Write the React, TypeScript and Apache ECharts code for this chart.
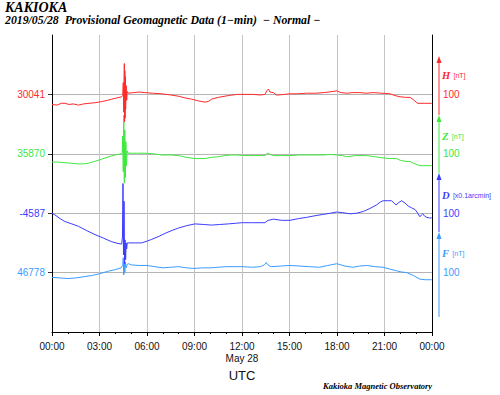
import React, { useEffect, useRef } from "react";
import * as echarts from "echarts";

// time in minutes since 00:00 UTC, deviations from baseline (nT or 0.1 arcmin)
const H_DATA: [number, number][] = [
  [0,-17],[20,-18],[35,-15],[49,-15],[65,-17],[80,-16],[100,-18],[120,-16],[140,-15],[163,-14],[190,-12],[210,-10],[226,-8],[245,-6],[264,-4],[268,-2],[270,20],[272,-30],[274,52],[275,-46],[276,40],[277,-40],[278,30],[279,-25],[281,15],[283,-10],[285,5],[289,2],[310,3],[330,4],[352,3],[380,2],[416,1],[450,-1],[479,-3],[505,-6],[529,-8],[555,-11],[580,-13],[592,-12],[605,-8],[630,-5],[668,-2],[700,0],[731,0],[760,0],[790,-1],[807,0],[814,6],[820,9],[826,4],[839,3],[850,-1],[858,-1],[880,0],[902,1],[930,1],[965,2],[1000,2],[1028,3],[1050,4],[1079,6],[1095,3],[1117,2],[1140,3],[1167,3],[1190,2],[1217,3],[1250,2],[1281,1],[1300,-2],[1319,-4],[1340,-5],[1357,-5],[1370,-9],[1385,-15],[1410,-15],[1439,-15],
];
const Z_DATA: [number, number][] = [
  [0,-14],[25,-14],[49,-15],[75,-16],[100,-17],[120,-17],[137,-16],[160,-13],[188,-9],[215,-5],[239,-2],[262,0],[266,2],[268,30],[270,-30],[272,65],[274,-49],[276,40],[278,-40],[280,20],[282,-20],[285,5],[289,1],[320,1],[352,1],[385,0],[416,-2],[450,-2],[479,-3],[510,-6],[542,-8],[580,-8],[605,-6],[630,-5],[655,-3],[681,-2],[700,-2],[731,-3],[770,-3],[807,-3],[814,0],[820,1],[826,-1],[839,-3],[870,-3],[902,-3],[935,-2],[965,-2],[1000,-2],[1028,-2],[1055,-1],[1079,-2],[1100,-3],[1117,-5],[1150,-3],[1192,-3],[1225,-5],[1255,-7],[1280,-8],[1306,-8],[1320,-11],[1331,-12],[1345,-13],[1357,-13],[1375,-17],[1394,-20],[1439,-20],
];
const D_DATA: [number, number][] = [
  [0,0],[15,-4],[30,-9],[49,-14],[75,-18],[100,-22],[130,-29],[163,-36],[195,-42],[226,-48],[250,-51],[264,-52],[267,-40],[269,50],[271,-70],[273,20],[275,-85],[277,-45],[279,-78],[281,-50],[283,-60],[285,-50],[289,-50],[315,-50],[340,-50],[360,-47],[378,-44],[405,-39],[428,-34],[455,-29],[479,-25],[510,-21],[542,-18],[575,-19],[605,-20],[635,-19],[668,-18],[695,-17],[719,-16],[760,-16],[807,-16],[815,-13],[820,-12],[830,-11],[839,-10],[870,-12],[902,-12],[935,-9],[965,-7],[1000,-4],[1028,-2],[1055,0],[1079,2],[1100,1],[1129,-1],[1155,0],[1180,3],[1205,8],[1230,14],[1245,19],[1255,21],[1270,21],[1287,21],[1296,17],[1304,14],[1314,18],[1325,21],[1338,17],[1350,12],[1363,9],[1376,6],[1386,0],[1394,-6],[1400,-3],[1405,-1],[1412,-5],[1420,-7],[1430,-8],[1439,-8],
];
const F_DATA: [number, number][] = [
  [0,-8],[30,-9],[60,-10],[90,-9],[120,-7],[150,-5],[180,-2],[210,2],[240,5],[262,8],[268,12],[270,25],[272,-4],[274,20],[276,0],[278,18],[281,8],[285,14],[290,15],[300,13],[330,12],[360,12],[390,10],[420,8],[450,9],[480,10],[510,8],[540,7],[570,8],[600,8],[630,9],[660,10],[690,10],[720,10],[760,9],[790,10],[805,13],[812,17],[818,13],[830,10],[865,11],[900,12],[940,11],[975,10],[1014,9],[1045,12],[1079,15],[1110,11],[1140,9],[1165,11],[1192,12],[1225,10],[1254,9],[1280,6],[1306,3],[1325,1],[1344,0],[1370,-5],[1394,-11],[1415,-12],[1432,-12],[1439,-12],
];

const BASELINES = ["46778", "-4587", "35870", "30041"]; // F, D, Z, H
const SCALE_LABELS = ["100", "100", "100", "100"];
const X_TICK_LABELS = ["00:00", "03:00", "06:00", "09:00", "12:00", "15:00", "18:00", "21:00", "00:00"];
const DATE_LABEL = "May 28";

const COLORS = ["#3a9cff", "#3c3cff", "#3ee83e", "#ff2a2a"]; // F, D, Z, H
const NAMES = ["F", "D", "Z", "H"];
const UNITS = ["[nT]", "[x0.1arcmin]", "[nT]", "[nT]"];
const SERIES = [F_DATA, D_DATA, Z_DATA, H_DATA];

export default function App() {
  const ref = useRef<HTMLDivElement>(null);
  useEffect(() => {
    if (!ref.current) return;
    const chart = echarts.init(ref.current, undefined, { renderer: "svg" });
    const rich: any = {};
    COLORS.forEach((c, i) => {
      rich["c" + i] = { color: c, fontSize: 10, fontFamily: "Liberation Sans" };
    });
    const serif = "Liberation Serif";
    const arrows = [
      { top: 232, bottom: 317, ty: 253 },
      { top: 173, bottom: 232, ty: 195 },
      { top: 115, bottom: 173, ty: 136 },
      { top: 56, bottom: 115, ty: 75 },
    ];
    const graphic: any[] = [
      { type: "text", left: 5, top: 0, style: { text: "KAKIOKA", font: `italic bold 14px "${serif}"`, fill: "#000" } },
      { type: "text", left: 5, top: 14, style: { text: "2019/05/28  Provisional Geomagnetic Data (1\u2212min)  \u2212 Normal \u2212", font: `italic bold 11.8px "${serif}"`, fill: "#000" } },
      { type: "text", left: 323, top: 381, style: { text: "Kakioka Magnetic Observatory", font: `italic bold 8.5px "${serif}"`, fill: "#000" } },
    ];
    arrows.forEach((a, i) => {
      graphic.push({ type: "line", shape: { x1: 439, y1: a.bottom, x2: 439, y2: a.top + 5 }, style: { stroke: COLORS[i], lineWidth: 1 } });
      graphic.push({ type: "polygon", shape: { points: [[439, a.top], [436.5, a.top + 7], [441.5, a.top + 7]] }, style: { fill: COLORS[i] } });
      graphic.push({
        type: "text", x: 442, y: a.ty,
        style: {
          text: `{n|${NAMES[i]}} {u|${UNITS[i]}}`,
          verticalAlign: "middle",
          rich: {
            n: { font: `italic bold 10.5px "${serif}"`, fill: COLORS[i], color: COLORS[i] },
            u: { fontSize: 7, fontFamily: "Liberation Sans", fill: COLORS[i], color: COLORS[i] },
          },
        },
      });
    });

    chart.setOption({
      animation: false,
      backgroundColor: "#fff",
      grid: { left: 52, right: 68, top: 35, bottom: 63 },
      graphic,
      xAxis: {
        type: "value", min: 0, max: 1440, interval: 180,
        axisLine: { show: true, lineStyle: { color: "#000", width: 1 } },
        axisTick: { show: true, length: 4, lineStyle: { color: "#000" } },
        minorTick: { show: true, splitNumber: 3, length: 2, lineStyle: { color: "#000" } },
        splitLine: { show: true, lineStyle: { color: "#c4c4c4", width: 1 } },
        axisLabel: {
          fontSize: 10, color: "#111", fontFamily: "Liberation Sans", margin: 8, lineHeight: 12,
          formatter: (v: number) => {
            const i = Math.round(v / 180);
            return X_TICK_LABELS[i] + (v === 720 ? "\n" + DATE_LABEL : "");
          },
        },
        name: "UTC", nameLocation: "middle", nameGap: 30,
        nameTextStyle: { fontSize: 13, color: "#111", fontFamily: "Liberation Sans" },
      },
      yAxis: [
        {
          type: "value", min: 0, max: 5, interval: 1, position: "left",
          axisLine: { show: true, lineStyle: { color: "#000", width: 1 } },
          axisTick: { show: true, length: 4, customValues: [1, 2, 3, 4], lineStyle: { color: "#333" } },
          axisLabel: {
            customValues: [1, 2, 3, 4], margin: 7,
            formatter: (v: number) => { const i = Math.round(v) - 1; return `{c${i}|${BASELINES[i]}}`; },
            rich,
          },
          splitLine: { show: true, lineStyle: { color: "#b4b4b4", width: 1 } },
        },
        {
          type: "value", min: 0, max: 5, interval: 1, position: "right",
          axisLine: { show: true, lineStyle: { color: "#000", width: 1 } },
          axisTick: { show: false, customValues: [1, 2, 3, 4] },
          axisLabel: {
            customValues: [1, 2, 3, 4], margin: 11,
            formatter: (v: number) => { const i = Math.round(v) - 1; return `{c${i}|${SCALE_LABELS[i]}}`; },
            rich,
          },
          splitLine: { show: false },
        },
      ],
      series: SERIES.map((d, i) => ({
        type: "line",
        name: NAMES[i],
        yAxisIndex: 0,
        showSymbol: false,
        symbol: "none",
        lineStyle: { color: COLORS[i], width: 1 },
        data: d.map(([t, v]) => [t, i + 1 + v / 100]),
      })),
    });
    return () => chart.dispose();
  }, []);
  return <div ref={ref} style={{ position: "fixed", left: 0, top: 0, width: 500, height: 395 }} />;
}
